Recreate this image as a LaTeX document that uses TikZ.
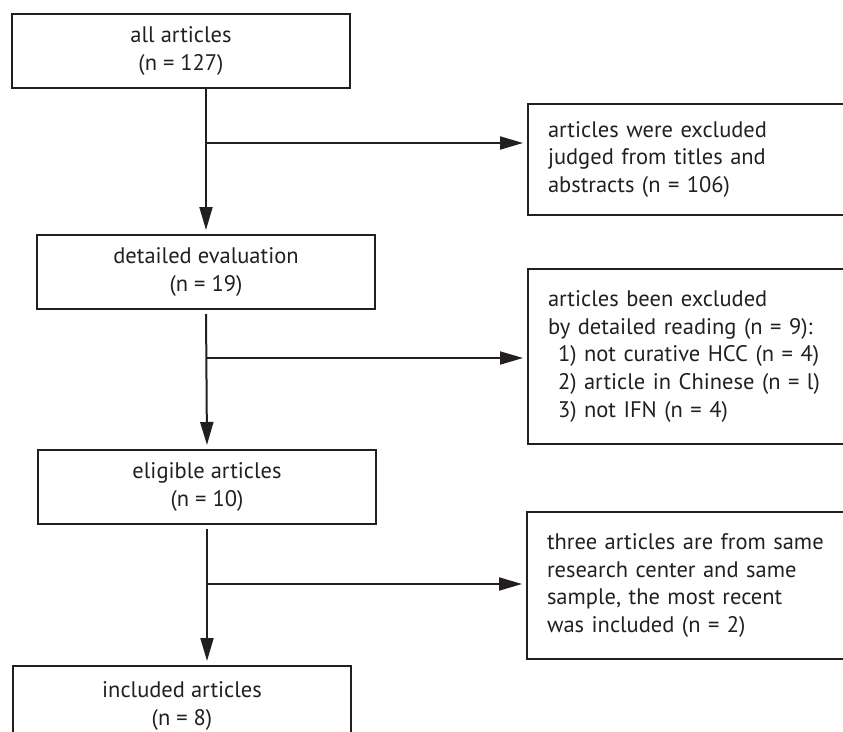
\documentclass[tikz,border=0pt]{standalone}
\usepackage{fontspec}
\setmainfont{PT Sans}
\usetikzlibrary{arrows.meta}
\definecolor{ink}{RGB}{35,31,32}

\begin{document}
\begin{tikzpicture}[x=1pt, y=-1pt, color=ink,
    font=\fontsize{22.5}{27.8}\selectfont,
    mainbox/.style={draw, line width=2pt, anchor=north west, minimum width=338pt,
        minimum height=74pt, align=center, inner sep=0pt},
    sidebox/.style={draw, line width=2pt, anchor=north west, align=left,
        inner xsep=20pt, text width=303pt},
    flow/.style={line width=2pt, -{Triangle[length=23pt, width=13pt]}, shorten >=4pt}]
    \clip (0,0) rectangle (843,731);
    \useasboundingbox (0,0) rectangle (843,731);

    % main column
    \node[mainbox] (all) at (11,13) {all articles\\(n = 127)};
    \node[mainbox] (detail) at (36,234) {detailed evaluation\\(n = 19)};
    \node[mainbox] (eligible) at (37,449) {eligible articles\\(n = 10)};
    \node[mainbox, minimum height=80pt] (included) at (12,665) {included articles\\(n = 8)};

    % excluded boxes
    \node[sidebox, minimum height=111pt] (titles) at (527,103)
        {articles were excluded\\judged from titles and\\abstracts (n = 106)};
    \node[sidebox, minimum height=175pt] (reading) at (527,268)
        {articles been excluded\\by detailed reading (n = 9):\\
         \hspace*{10pt}1) not curative HCC (n = 4)\\
         \hspace*{10pt}2) article in Chinese (n = l)\\
         \hspace*{10pt}3) not IFN (n = 4)};
    \node[sidebox, minimum height=147pt] (center) at (526,511)
        {three articles are from same\\research center and same\\sample, the most recent\\was included (n = 2)};

    % arrows
    \draw[flow] (all.south -| detail.north) -- (detail.north);
    \draw[flow, shorten <=4pt] (detail.south) -- (eligible.north);
    \draw[flow, shorten <=4pt] (eligible.south) -- (eligible.south |- included.north);

    \coordinate (b1) at (206,143);
    \coordinate (b2) at (206,358);
    \coordinate (b3) at (206,584);
    \draw[flow] (b1) -- (b1 -| titles.west);
    \draw[flow] (b2) -- (b2 -| reading.west);
    \draw[flow] (b3) -- (b3 -| center.west);
\end{tikzpicture}
\end{document}
